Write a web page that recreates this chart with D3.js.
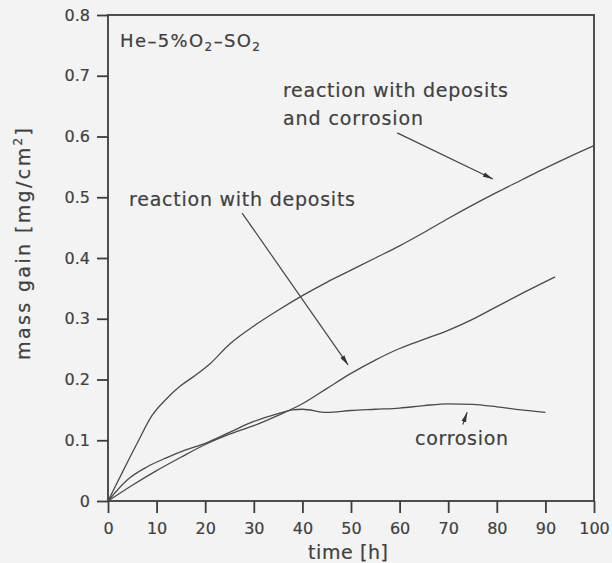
<!DOCTYPE html>
<html>
<head>
<meta charset="utf-8">
<script src="https://cdn.jsdelivr.net/npm/d3@7/dist/d3.min.js"></script>
<style>
  body { margin: 0; background: #f3f3f3; }
  svg { display: block; }
  text { font-family: "DejaVu Sans", "Liberation Sans", sans-serif; fill: #404040; stroke: #404040; stroke-width: 0.2px; }
</style>
</head>
<body>
<svg width="612" height="563"></svg>
<script>
// x tick values and y tick values
var xTicks = [0, 10, 20, 30, 40, 50, 60, 70, 80, 90, 100];
var yTicks = [0, 0.1, 0.2, 0.3, 0.4, 0.5, 0.6, 0.7, 0.8];

// reaction with deposits and corrosion
var bothTime = [0, 3, 6, 9, 12, 15, 18, 21, 25, 30, 35, 40, 45, 50, 55, 60, 65, 70, 75, 80, 85, 90, 95, 100];
var bothMass = [0, 0.048, 0.095, 0.14, 0.168, 0.19, 0.207, 0.226, 0.258, 0.288, 0.314, 0.338, 0.36, 0.38, 0.4, 0.42, 0.442, 0.465, 0.487, 0.508, 0.528, 0.548, 0.567, 0.585];

// reaction with deposits
var depTime = [0, 5, 10, 15, 20, 25, 30, 35, 40, 45, 50, 55, 60, 65, 70, 75, 80, 85, 92];
var depMass = [0, 0.026, 0.05, 0.072, 0.093, 0.11, 0.124, 0.141, 0.16, 0.185, 0.21, 0.232, 0.251, 0.266, 0.281, 0.299, 0.32, 0.341, 0.369];

// corrosion
var corTime = [0, 4, 8, 12, 16, 20, 25, 30, 35, 38, 40, 45, 50, 55, 60, 65, 70, 75, 80, 85, 90];
var corMass = [0, 0.035, 0.056, 0.071, 0.084, 0.095, 0.113, 0.131, 0.144, 0.15, 0.151, 0.146, 0.149, 0.151, 0.153, 0.157, 0.16, 0.159, 0.155, 0.15, 0.146];

// annotation arrows [t1, m1, t2, m2] in data units
var arrowBoth = [59.5, 0.606, 79.2, 0.53];
var arrowDep = [27.6, 0.474, 49.4, 0.224];
var arrowCor = [73.0, 0.126, 73.9, 0.146];

var svg = d3.select('svg');

var x = d3.scaleLinear().domain([0, 100]).range([108, 594]);
var y = d3.scaleLinear().domain([0, 0.8]).range([501, 15]);

var ink = '#3c3c3c';

// frame
svg.append('rect')
    .attr('x', x(0)).attr('y', y(0.8))
    .attr('width', x(100) - x(0)).attr('height', y(0) - y(0.8))
    .attr('fill', 'none').attr('stroke', ink).attr('stroke-width', 1.8);

// y axis
var yAxis = d3.axisLeft(y)
    .tickValues(yTicks)
    .tickSize(11)
    .tickSizeOuter(0)
    .tickPadding(7)
    .tickFormat(function (d) { return d === 0 ? '0' : d.toFixed(1); });

var gy = svg.append('g')
    .attr('transform', 'translate(' + x(0) + ',0)')
    .call(yAxis);

// x axis
var xAxis = d3.axisBottom(x)
    .tickValues(xTicks)
    .tickSize(12)
    .tickSizeOuter(0)
    .tickPadding(10);

var gx = svg.append('g')
    .attr('transform', 'translate(0,' + y(0) + ')')
    .call(xAxis);

[gx, gy].forEach(function (g) {
    g.select('.domain').remove();
    g.selectAll('line').attr('stroke', ink).attr('stroke-width', 1.8);
    g.selectAll('text')
        .style('font-size', '16px')
        .attr('fill', '#404040');
});

// curves
var line = d3.line()
    .x(function (d) { return x(d[0]); })
    .y(function (d) { return y(d[1]); })
    .curve(d3.curveMonotoneX);

[[bothTime, bothMass], [depTime, depMass], [corTime, corMass]].forEach(function (s) {
    var pts = s[0].map(function (t, i) { return [t, s[1][i]]; });
    svg.append('path')
        .attr('d', line(pts))
        .attr('fill', 'none')
        .attr('stroke', '#4a4a4a')
        .attr('stroke-width', 1.3);
});

// arrow head
svg.append('defs').append('marker')
    .attr('id', 'head')
    .attr('viewBox', '0 0 10 6')
    .attr('refX', 10).attr('refY', 3)
    .attr('markerWidth', 10).attr('markerHeight', 6)
    .attr('markerUnits', 'userSpaceOnUse')
    .attr('orient', 'auto')
    .append('path')
    .attr('d', 'M0,0.6 L10,3 L0,5.4 Z')
    .attr('fill', '#333');

[arrowBoth, arrowDep, arrowCor].forEach(function (a) {
    svg.append('line')
        .attr('x1', x(a[0])).attr('y1', y(a[1]))
        .attr('x2', x(a[2])).attr('y2', y(a[3]))
        .attr('stroke', '#444')
        .attr('stroke-width', 1.2)
        .attr('marker-end', 'url(#head)');
});

// labels
function label(txt, px, py, size, len) {
    return svg.append('text')
        .attr('x', px).attr('y', py)
        .style('font-size', size + 'px')
        .attr('textLength', len)
        .attr('lengthAdjust', 'spacing')
        .text(txt);
}

label('reaction with deposits', 283, 97, 19, 225);
label('and corrosion', 283, 125, 19, 140);
label('reaction with deposits', 129, 206, 19, 226);
label('corrosion', 415, 445, 19, 93);

// gas label with subscripts
var gas = svg.append('text')
    .attr('x', 120).attr('y', 47)
    .style('font-size', '18px')
    .attr('textLength', 140)
    .attr('lengthAdjust', 'spacing');
gas.append('tspan').text('He\u20135%O');
gas.append('tspan').attr('dy', 4).style('font-size', '12px').text('2');
gas.append('tspan').attr('dy', -4).text('\u2013SO');
gas.append('tspan').attr('dy', 4).style('font-size', '12px').text('2');

// axis titles
svg.append('text')
    .attr('x', 308)
    .attr('y', 559)
    .style('font-size', '19px')
    .attr('textLength', 80)
    .attr('lengthAdjust', 'spacing')
    .text('time [h]');

var yt = svg.append('text')
    .attr('transform', 'translate(30,360) rotate(-90)')
    .style('font-size', '19px')
    .attr('textLength', 232)
    .attr('lengthAdjust', 'spacing');
yt.append('tspan').text('mass gain [mg/cm');
yt.append('tspan').attr('dy', -8).style('font-size', '12px').text('2');
yt.append('tspan').attr('dy', 8).text(']');
</script>
</body>
</html>
